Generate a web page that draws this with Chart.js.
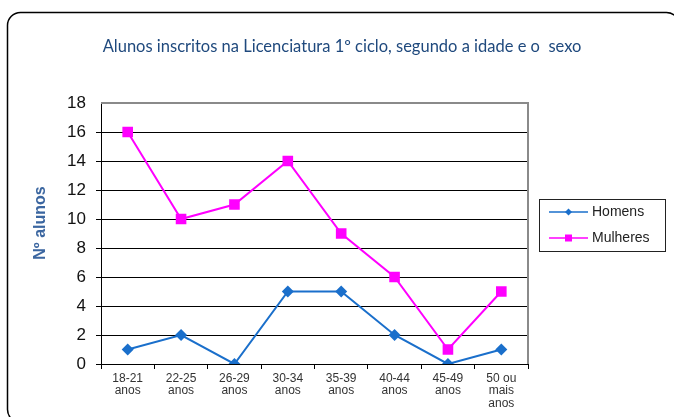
<!DOCTYPE html>
<html>
<head>
<meta charset="utf-8">
<script src="https://cdn.jsdelivr.net/npm/chart.js@4/dist/chart.umd.min.js"></script>
<style>
  html, body { margin: 0; padding: 0; background: #fff; }
</style>
</head>
<body>
<canvas id="idadeChart" width="674" height="417"></canvas>
<script>
// faixas etárias (eixo x) e número de alunos por sexo
const faixas = [
  ['18-21', 'anos'], ['22-25', 'anos'], ['26-29', 'anos'], ['30-34', 'anos'],
  ['35-39', 'anos'], ['40-44', 'anos'], ['45-49', 'anos'], ['50 ou', 'mais', 'anos']
];
const homens = [1, 2, 0, 5, 5, 2, 0, 1];
const mulheres = [16, 10, 11, 14, 9, 6, 1, 5];
const yMin = 0, yMax = 18, yStep = 2;

const titulo = 'Alunos inscritos na Licenciatura 1º ciclo, segundo a idade e o  sexo';
const corHomens = '#1A6FCB';
const corMulheres = '#FF00FF';

// moldura, título, contorno da área do gráfico, título do eixo y e legenda
const extras = {
  id: 'extras',
  beforeDraw(chart) {
    const ctx = chart.ctx;
    ctx.save();
    ctx.fillStyle = '#fff';
    ctx.fillRect(0, 0, chart.width, chart.height);
    ctx.strokeStyle = '#000';
    ctx.lineWidth = 1.5;
    ctx.beginPath();
    ctx.roundRect(7.5, 12.5, 672, 410, 13);
    ctx.stroke();

    ctx.fillStyle = '#1F497D';
    ctx.font = '16.5px Lato, "Open Sans", sans-serif';
    ctx.textAlign = 'center';
    ctx.textBaseline = 'middle';
    ctx.fillText(titulo, 342, 47);
    ctx.restore();
  },
  afterDraw(chart) {
    const ctx = chart.ctx;
    const a = chart.chartArea;
    ctx.save();
    ctx.strokeStyle = '#8a8a8a';
    ctx.lineWidth = 2;
    ctx.beginPath();
    ctx.moveTo(a.left, a.top);
    ctx.lineTo(a.right, a.top);
    ctx.lineTo(a.right, a.bottom);
    ctx.stroke();

    // título do eixo y
    ctx.translate(41, 223);
    ctx.rotate(-Math.PI / 2);
    ctx.fillStyle = '#3B66A0';
    ctx.font = 'bold 16px "Liberation Sans", Arial, sans-serif';
    ctx.textAlign = 'center';
    ctx.textBaseline = 'middle';
    ctx.fillText('Nº alunos', 0, 0);
    ctx.restore();

    // legenda
    ctx.save();
    ctx.strokeStyle = '#222';
    ctx.lineWidth = 1;
    ctx.strokeRect(539.5, 199.5, 126, 52);
    chart.data.datasets.forEach((ds, i) => {
      const y = 212 + i * 26;
      ctx.strokeStyle = ds.borderColor;
      ctx.lineWidth = 1.5;
      ctx.beginPath();
      ctx.moveTo(549, y);
      ctx.lineTo(588, y);
      ctx.stroke();
      ctx.fillStyle = ds.backgroundColor;
      ctx.beginPath();
      if (ds.pointStyle === 'rectRot') {
        ctx.moveTo(568.5, y - 3.5);
        ctx.lineTo(572, y);
        ctx.lineTo(568.5, y + 3.5);
        ctx.lineTo(565, y);
        ctx.closePath();
        ctx.fill();
      } else {
        ctx.fillRect(565, y - 3.5, 7, 7);
      }
      ctx.fillStyle = '#222';
      ctx.font = '14px "Liberation Sans", Arial, sans-serif';
      ctx.textBaseline = 'middle';
      ctx.fillText(ds.label, 592, y);
    });
    ctx.restore();
  }
};

new Chart(document.getElementById('idadeChart'), {
  type: 'line',
  data: {
    labels: faixas,
    datasets: [{
      label: 'Homens',
      data: homens,
      borderColor: corHomens,
      backgroundColor: corHomens,
      borderWidth: 2,
      pointStyle: 'rectRot',
      pointRadius: 6,
      pointBorderWidth: 0,
      tension: 0,
      fill: false
    }, {
      label: 'Mulheres',
      data: mulheres,
      borderColor: corMulheres,
      backgroundColor: corMulheres,
      borderWidth: 2,
      pointStyle: 'rect',
      pointRadius: 7.5,
      pointBorderWidth: 0,
      tension: 0,
      fill: false
    }]
  },
  options: {
    responsive: false,
    animation: false,
    layout: { padding: { left: 0, right: 146, top: 103, bottom: 0 } },
    plugins: {
      legend: { display: false },
      tooltip: { enabled: false },
      title: { display: false }
    },
    scales: {
      x: {
        offset: true,
        border: { color: '#000', width: 1 },
        grid: { offset: true, drawOnChartArea: false, color: '#000', tickLength: 5 },
        ticks: {
          autoSkip: false,
          maxRotation: 0,
          padding: 3,
          color: '#333',
          font: { family: '"Liberation Sans", Arial, sans-serif', size: 12, lineHeight: 1.05 }
        },
        afterFit(scale) { scale.height = 53; }
      },
      y: {
        min: yMin,
        max: yMax,
        border: { color: '#000', width: 1 },
        grid: {
          color: ctx => ctx.tick && ctx.tick.value === yMax ? 'rgba(0,0,0,0)' : '#000',
          tickLength: 5
        },
        ticks: {
          stepSize: yStep,
          padding: 10,
          color: '#111',
          font: { family: '"Liberation Sans", Arial, sans-serif', size: 17 }
        },
        afterFit(scale) { scale.width = 101; }
      }
    }
  },
  plugins: [extras]
});
</script>
</body>
</html>
